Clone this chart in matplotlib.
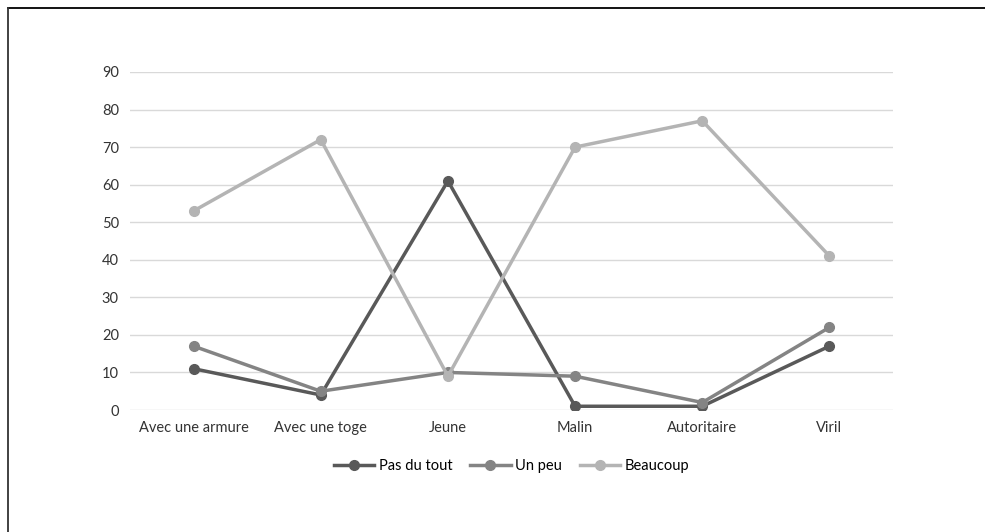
import numpy as np
import matplotlib.pyplot as plt
from matplotlib.lines import Line2D

categories = ["Avec une armure", "Avec une toge", "Jeune", "Malin", "Autoritaire", "Viril"]
pas_du_tout = [11, 4, 61, 1, 1, 17]
un_peu = [17, 5, 10, 9, 2, 22]
beaucoup = [53, 72, 9, 70, 77, 41]

plt.rcParams['font.family'] = ['Lato', 'DejaVu Sans']

fig = plt.figure(figsize=(9.85, 5.32), dpi=100)
ax = fig.add_axes([0.132, 0.2293, 0.7746, 0.6354])

x = np.arange(len(categories))
ax.plot(x, pas_du_tout, color='#595959', lw=2.5, marker='o', ms=7, label='Pas du tout', zorder=3)
ax.plot(x, un_peu, color='#848484', lw=2.5, marker='o', ms=7, label='Un peu', zorder=3)
ax.plot(x, beaucoup, color='#b4b4b4', lw=2.5, marker='o', ms=7, label='Beaucoup', zorder=3)

ax.set_xlim(-0.5, len(categories) - 0.5)
ax.set_ylim(0, 90)
ax.set_yticks(range(0, 91, 10))
ax.set_xticks(x)
ax.set_xticklabels(categories)
ax.yaxis.grid(True, color='#d9d9d9', lw=1)
ax.set_axisbelow(True)
for s in ax.spines.values():
    s.set_visible(False)
ax.tick_params(length=0, labelsize=10.5, colors='#333333', pad=8)

ax.legend(loc='upper center', bbox_to_anchor=(0.5, -0.105), ncol=3, frameon=False,
          fontsize=10.5, handlelength=2.8, columnspacing=1.2, handletextpad=0.3)

# frame lines around the picture (top and left)
fig.add_artist(Line2D([8 / 985, 1], [1 - 8 / 532, 1 - 8 / 532], transform=fig.transFigure, color='black', lw=1.3))
fig.add_artist(Line2D([8 / 985, 8 / 985], [0, 1 - 8 / 532], transform=fig.transFigure, color='#333333', lw=1.3))

plt.savefig("out.png", dpi=100)
